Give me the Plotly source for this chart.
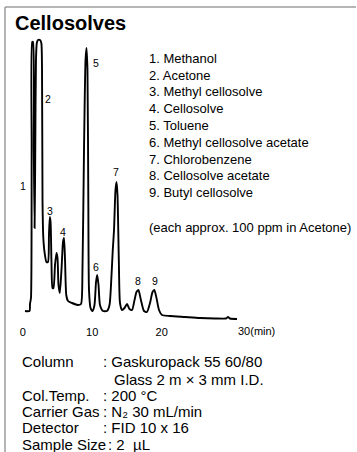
import plotly.graph_objects as go

W, H = 357, 452
FONT = "Liberation Sans, Arial, Helvetica, sans-serif"

# ---- chromatogram (retention time in min, detector signal in arbitrary units) ----
time_min = [0.33, 0.98, 1.05, 1.19, 1.29, 1.37, 1.48, 1.60, 1.71, 1.81,
            1.91, 2.03, 2.20, 2.49, 2.68, 2.78, 2.85, 2.96, 3.14, 3.42,
            3.64, 3.78, 3.90, 4.01, 4.14, 4.29, 4.43, 4.65, 4.86, 5.01,
            5.15, 5.34, 5.58, 5.80, 5.94, 6.09, 6.27, 6.52, 7.09, 7.96,
            8.39, 8.60, 8.82, 9.04, 9.18, 9.32, 9.44, 9.54, 9.76, 10.04,
            10.33, 10.55, 10.72, 10.91, 11.12, 11.55, 12.13, 12.49, 12.78, 12.96,
            13.14, 13.35, 13.50, 13.64, 13.83, 14.00, 14.29, 14.65, 15.01, 15.37,
            15.73, 16.09, 16.37, 16.65, 17.01, 17.45, 17.88, 18.32, 18.68, 18.94,
            19.25, 19.61, 20.04, 21.19, 23.35, 25.51, 27.67, 29.25, 29.54, 29.83, 30.84]
signal = [9, 9, 16, 22, 170, 278, 278, 170, 92, 170,
          260, 277, 280, 280, 277, 250, 120, 83, 68, 58,
          58, 85, 103, 98, 58, 32, 32, 55, 67, 62,
          35, 27, 50, 78, 82, 60, 25, 19, 17, 15,
          16, 50, 170, 260, 272, 250, 120, 30, 12, 9,
          15, 38, 45, 35, 15, 9, 9, 15, 45, 70,
          90, 130, 138, 125, 60, 17, 10, 12, 16, 11,
          10, 20, 28, 30, 20, 9, 8, 17, 28, 30,
          22, 10, 5, 4, 3, 2, 1.5, 1.5, 3, 1.5, 1]

# ---- peak labels ----
peak_numbers = ["1", "2", "3", "4", "5", "6", "7", "8", "9"]
peak_label_time = [0.0, 3.60, 3.93, 5.76, 10.50, 10.50, 13.42, 16.65, 19.04]
peak_label_signal = [134, 221, 109, 88, 257, 53, 148, 39, 39]

compounds = ["Methanol", "Acetone", "Methyl cellosolve", "Cellosolve", "Toluene",
             "Methyl cellosolve acetate", "Chlorobenzene", "Cellosolve acetate",
             "Butyl cellosolve"]
note = "(each approx. 100 ppm in Acetone)"

tick_values = [0, 10, 20, 30]
tick_labels = ["0", "10", "20", "30(min)"]

cond_labels = ["Column", "", "Col.Temp.", "Carrier Gas", "Detector", "Sample Size"]
cond_values = [": Gaskuropack 55 60/80", "Glass 2 m × 3 mm I.D.", ": 200 °C",
               ": N₂ 30 mL/min", ": FID 10 x 16", ": 2  µL"]

title = "Cellosolves"

# ---- layout helpers (pixel -> paper / axis) ----
X0, XS = 22.7, 6.95      # pixel of t=0, pixels per minute
Y0 = 320                 # pixel of signal 0 (1 unit = 1 px)


def px(x):
    return x / W


def py(y):
    return 1 - y / H


fig = go.Figure()
fig.add_trace(go.Scatter(
    x=time_min, y=signal, mode="lines",
    line=dict(color="black", width=1.9, shape="spline", smoothing=0.6),
    hoverinfo="skip", showlegend=False))

ann = []
for n, t, s in zip(peak_numbers, peak_label_time, peak_label_signal):
    ann.append(dict(x=t, y=s, xref="x", yref="y", text=n, showarrow=False,
                    font=dict(size=10.5, color="black", family=FONT),
                    xanchor="center", yanchor="middle"))

ann.append(dict(x=px(13), y=py(23), xref="paper", yref="paper", text="<b>%s</b>" % title,
                showarrow=False, xanchor="left", yanchor="middle",
                font=dict(size=20, color="black", family=FONT)))

for i, c in enumerate(compounds):
    ann.append(dict(x=px(147), y=py(58.3 + i * 16.8), xref="paper", yref="paper",
                    text="%d. %s" % (i + 1, c), showarrow=False,
                    xanchor="left", yanchor="middle",
                    font=dict(size=13, color="black", family=FONT)))
ann.append(dict(x=px(147), y=py(227.3), xref="paper", yref="paper", text=note,
                showarrow=False, xanchor="left", yanchor="middle",
                font=dict(size=13, color="black", family=FONT)))

# last tick label carries the unit and sits to the right of its value
ann.append(dict(x=tick_values[-1], y=py(331), xref="x", yref="paper", text=tick_labels[-1],
                showarrow=False, xanchor="left", yanchor="middle", xshift=5,
                font=dict(size=11, color="black", family=FONT)))

row_y = [361.7, 379, 395.7, 411.5, 427.7, 444.5]
for lab, val, yy in zip(cond_labels, cond_values, row_y):
    if lab:
        ann.append(dict(x=px(20), y=py(yy), xref="paper", yref="paper", text=lab,
                        showarrow=False, xanchor="left", yanchor="middle",
                        font=dict(size=15, color="black", family=FONT)))
    if lab == "Sample Size":
        vx = 106
    elif lab:
        vx = 100.5
    else:
        vx = 111.5
    ann.append(dict(x=px(vx), y=py(yy), xref="paper", yref="paper", text=val,
                    showarrow=False, xanchor="left", yanchor="middle",
                    font=dict(size=15, color="black", family=FONT)))

shapes = [
    dict(type="line", xref="paper", yref="paper", x0=px(5), x1=px(356), y0=py(7), y1=py(7),
         line=dict(color="#9c9c9c", width=1.5)),
    dict(type="line", xref="paper", yref="paper", x0=px(5), x1=px(5), y0=py(7), y1=py(452),
         line=dict(color="#9c9c9c", width=1.5)),
]

fig.update_layout(
    width=W, height=H, autosize=False,
    margin=dict(l=0, r=0, t=0, b=0, pad=0),
    paper_bgcolor="white", plot_bgcolor="white",
    annotations=ann, shapes=shapes,
    font=dict(family=FONT, color="black"),
    xaxis=dict(range=[(0 - X0) / XS, (W - X0) / XS], tickvals=tick_values[:3],
               ticktext=tick_labels[:3], showgrid=False, zeroline=False, showline=False,
               ticks="", anchor="free", position=py(324),
               tickfont=dict(size=11, color="black", family=FONT), fixedrange=True),
    yaxis=dict(range=[Y0 - H, Y0], visible=False, showgrid=False, zeroline=False,
               fixedrange=True),
    showlegend=False,
)

fig.write_html("out.html", config=dict(displayModeBar=False),
               post_script="document.body.style.margin='0';")
